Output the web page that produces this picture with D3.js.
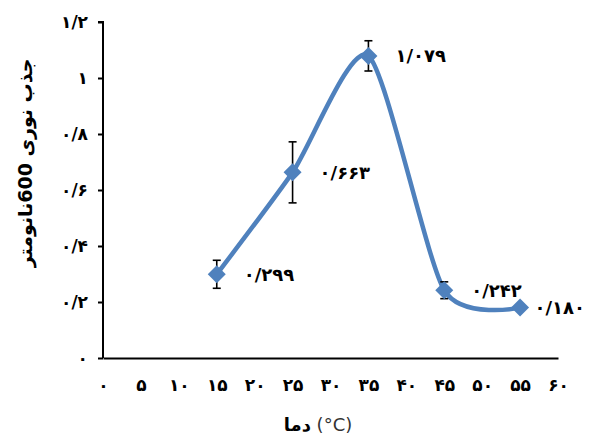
<!DOCTYPE html>
<html>
<head>
<meta charset="utf-8">
<script src="https://cdn.jsdelivr.net/npm/d3@7"></script>
<style>
  body { margin: 0; background: #fff; }
  text { font-family: "DejaVu Sans", sans-serif; }
</style>
</head>
<body>
<div id="chart"></div>
<script>
// temperature (°C) vs optical absorbance at 600 nm
const temps = [15, 25, 35, 45, 55];
const absorbance = [0.299, 0.663, 1.079, 0.242, 0.180];
const errors = [0.05, 0.109, 0.054, 0.03, 0.008];
const xTicks = [0, 5, 10, 15, 20, 25, 30, 35, 40, 45, 50, 55, 60];
const yTicks = [0, 0.2, 0.4, 0.6, 0.8, 1, 1.2];

const W = 591, H = 435;
const margin = { top: 22, right: 33, bottom: 77, left: 103 };
const blue = "#4f81bd";

const faDigits = "۰۱۲۳۴۵۶۷۸۹";
function toFa(s) {
  return String(s).replace(/[0-9]/g, d => faDigits[+d]).replace(/\./g, "/");
}

const svg = d3.select("#chart").append("svg")
  .attr("width", W).attr("height", H);

const x = d3.scaleLinear().domain([0, 60]).range([margin.left, W - margin.right]);
const y = d3.scaleLinear().domain([0, 1.2]).range([H - margin.bottom, margin.top]);

// y axis
const yAxis = svg.append("g")
  .attr("transform", "translate(" + margin.left + ",0)")
  .call(d3.axisLeft(y).tickValues(yTicks).tickSize(5).tickPadding(10)
    .tickFormat(d => toFa(d3.format("~g")(d))));
yAxis.select(".domain").attr("stroke-width", 2).attr("d", "M-5," + y(1.2) + "H0V" + y(0));
yAxis.selectAll(".tick line").attr("stroke-width", 2);
yAxis.selectAll(".tick text").attr("font-size", 17).attr("font-weight", "bold");

// x axis
const xAxis = svg.append("g")
  .attr("transform", "translate(0," + y(0) + ")")
  .call(d3.axisBottom(x).tickValues(xTicks).tickSize(0).tickPadding(21)
    .tickFormat(d => toFa(d)));
xAxis.select(".domain").attr("stroke-width", 2);
xAxis.selectAll(".tick text").attr("font-size", 17).attr("font-weight", "bold");

// smoothed line
const pts = temps.map((t, i) => [t, absorbance[i]]);
const line = d3.line()
  .x(d => x(d[0]))
  .y(d => y(d[1]))
  .curve(d3.curveCardinal.tension(0.3));
svg.append("path")
  .datum(pts)
  .attr("fill", "none")
  .attr("stroke", blue)
  .attr("stroke-width", 4.5)
  .attr("d", line);

// error bars
const eb = svg.append("g").attr("stroke", "#000").attr("stroke-width", 1.6);
temps.forEach((t, i) => {
  const cx = x(t), y1 = y(absorbance[i] + errors[i]), y2 = y(absorbance[i] - errors[i]);
  eb.append("line").attr("x1", cx).attr("x2", cx).attr("y1", y1).attr("y2", y2);
  eb.append("line").attr("x1", cx - 4).attr("x2", cx + 4).attr("y1", y1).attr("y2", y1);
  eb.append("line").attr("x1", cx - 4).attr("x2", cx + 4).attr("y1", y2).attr("y2", y2);
});

// diamond markers
svg.append("g").selectAll("path")
  .data(pts)
  .join("path")
  .attr("transform", d => "translate(" + x(d[0]) + "," + y(d[1]) + ")")
  .attr("d", "M0,-9L9,0L0,9L-9,0Z")
  .attr("fill", blue);

// data labels
const lbl = svg.append("g");
pts.forEach(d => {
  const t = lbl.append("text")
    .attr("font-size", 18)
    .attr("font-weight", "bold")
    .attr("dy", "0.35em")
    .attr("y", y(d[1]))
    .text(toFa(d3.format(".3f")(d[1])));
  const w = t.node().getComputedTextLength();
  t.attr("x", Math.min(x(d[0]) + 27, W - 6 - w));
});

// axis titles
svg.append("text")
  .attr("transform", "translate(32," + 163 + ") rotate(-90)")
  .attr("text-anchor", "middle")
  .attr("font-size", 19)
  .attr("font-weight", "bold")
  .text("جذب نوری 600نانومتر");

const xt = svg.append("text")
  .attr("x", 318).attr("y", 431)
  .attr("text-anchor", "middle")
  .attr("font-size", 18);
xt.append("tspan").attr("font-weight", "bold").text("دما");
xt.append("tspan").attr("fill", "#333").text(" (°C)");
</script>
</body>
</html>
